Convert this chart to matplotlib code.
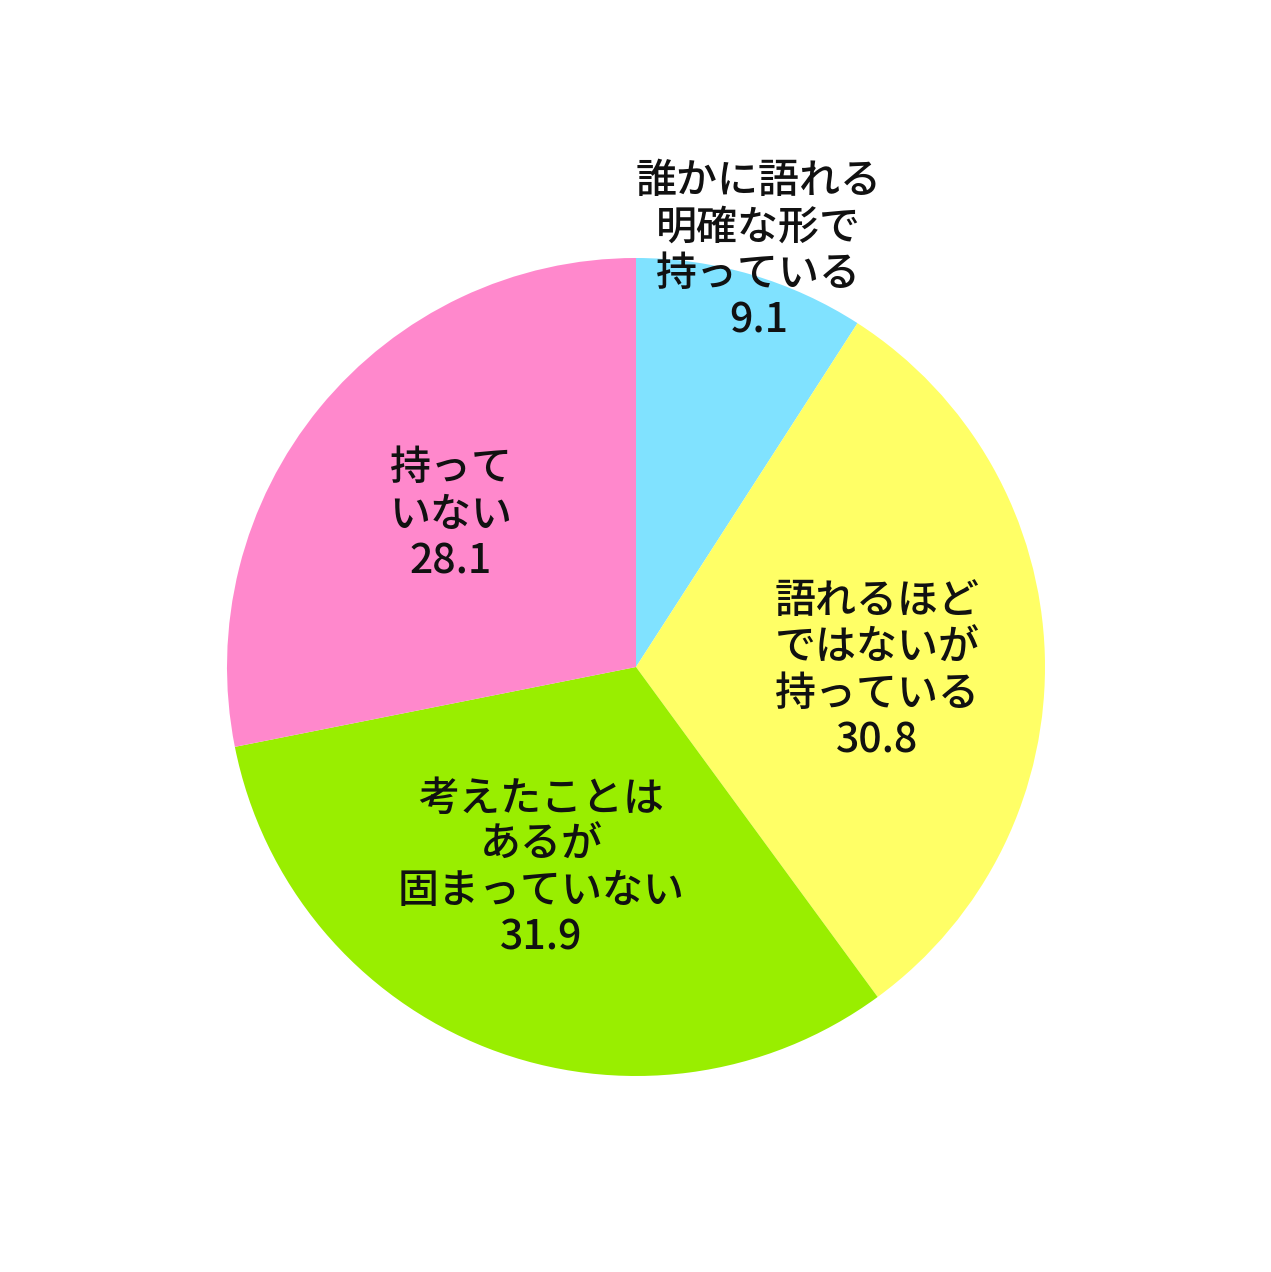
import matplotlib
matplotlib.use("Agg")
import matplotlib.pyplot as plt
import numpy as np

plt.rcParams['font.family'] = ['Noto Sans CJK JP', 'DejaVu Sans']

# data, clockwise from 12 o'clock
labels = ["誰かに語れる\n明確な形で\n持っている", "語れるほど\nではないが\n持っている",
          "考えたことは\nあるが\n固まっていない", "持って\nいない"]
values = [9.1, 30.8, 31.9, 28.1]
colors = ["#80E2FF", "#FFFF66", "#99EE00", "#FF88CC"]

W, H = 1271, 1272
cx, cy, r = 636, 667, 409

fig = plt.figure(figsize=(W / 100, H / 100), dpi=100)
ax = fig.add_axes([0, 0, 1, 1])

wedges, _ = ax.pie(values, colors=colors, startangle=90, counterclock=False,
                   radius=1, wedgeprops=dict(linewidth=0))

# pie() resets the limits, so set them afterwards
ax.set_xlim(-cx / r, (W - cx) / r)
ax.set_ylim(-(H - cy) / r, cy / r)
ax.set_aspect("equal")
ax.axis("off")

# label radial distance and angle nudge per slice
dist = [1.06, 0.59, 0.545, 0.585]
nudge = [0, -2.8, -4, 0]
for w, lab, v, d, n in zip(wedges, labels, values, dist, nudge):
    ang = np.deg2rad((w.theta1 + w.theta2) / 2 + n)
    x, y = d * np.cos(ang), d * np.sin(ang)
    ax.text(x, y, f"{lab}\n{v}", ha="center", va="center", multialignment="center",
            fontsize=29.5, fontweight="medium", linespacing=1.17, color="#111111")

fig.savefig("out.png", dpi=100)
